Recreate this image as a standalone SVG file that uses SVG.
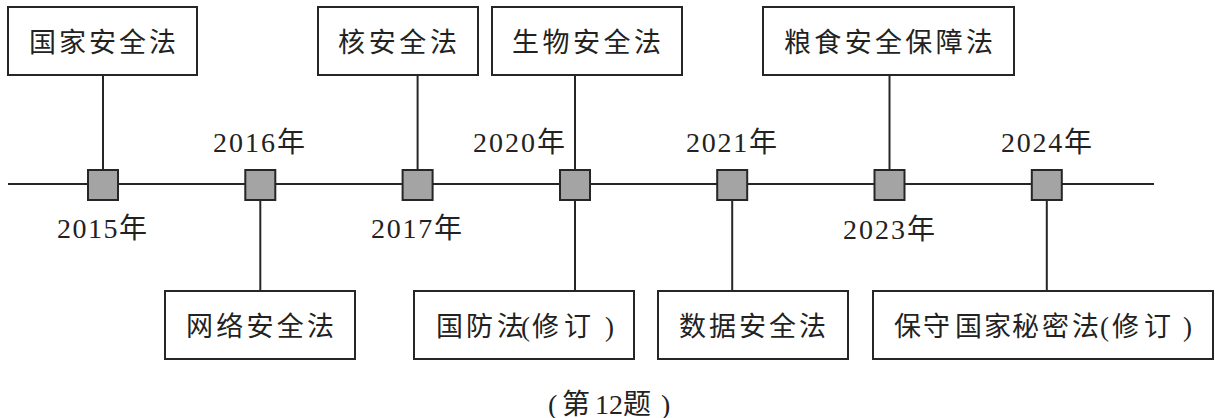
<svg xmlns="http://www.w3.org/2000/svg" width="1215" height="418" viewBox="0 0 1215 418">
<style>
.box{fill:#fff;stroke:#262626;stroke-width:2}
.sq{fill:#a4a4a4;stroke:#262626;stroke-width:2}
.ln{stroke:#262626;stroke-width:2;fill:none}
.lbl{font-family:"Liberation Serif","Noto Sans CJK SC",serif;font-size:27px;fill:#222}
.yr{font-family:"Liberation Serif","Noto Sans CJK SC",serif;font-size:28px;fill:#222}
</style>
<rect width="1215" height="418" fill="#fff"/>
<g id="connectors">
<line class="ln" x1="8" y1="184" x2="1154" y2="184"/>
<line class="ln" x1="103" y1="75" x2="103" y2="170"/>
<line class="ln" x1="417.6" y1="75" x2="417.6" y2="170"/>
<line class="ln" x1="575" y1="75" x2="575" y2="170"/>
<line class="ln" x1="889.5" y1="75" x2="889.5" y2="170"/>
<line class="ln" x1="260.3" y1="200" x2="260.3" y2="291"/>
<line class="ln" x1="575" y1="200" x2="575" y2="291"/>
<line class="ln" x1="732.2" y1="200" x2="732.2" y2="291"/>
<line class="ln" x1="1046.8" y1="200" x2="1046.8" y2="291"/>
</g>
<g id="m2015"><rect class="sq" x="88" y="170" width="30" height="30"/><text class="yr" x="57" y="238" textLength="90">2015年</text></g>
<g id="m2016"><rect class="sq" x="245.3" y="170" width="30" height="30"/><text class="yr" x="213" y="152" textLength="92">2016年</text></g>
<g id="m2017"><rect class="sq" x="402.6" y="170" width="30" height="30"/><text class="yr" x="371" y="238" textLength="91">2017年</text></g>
<g id="m2020"><rect class="sq" x="560" y="170" width="30" height="30"/><text class="yr" x="473" y="152" textLength="92">2020年</text></g>
<g id="m2021"><rect class="sq" x="717.2" y="170" width="30" height="30"/><text class="yr" x="686" y="152" textLength="91">2021年</text></g>
<g id="m2023"><rect class="sq" x="874.5" y="170" width="30" height="30"/><text class="yr" x="843" y="239" textLength="92">2023年</text></g>
<g id="m2024"><rect class="sq" x="1031.8" y="170" width="30" height="30"/><text class="yr" x="1001" y="152" textLength="91">2024年</text></g>
<g id="n1"><rect class="box" x="8" y="7" width="189" height="68"/><text class="lbl" x="29" y="52" textLength="147">国家安全法</text></g>
<g id="n2"><rect class="box" x="318" y="7" width="160" height="68"/><text class="lbl" x="338" y="52" textLength="119">核安全法</text></g>
<g id="n3"><rect class="box" x="492" y="7" width="190" height="68"/><text class="lbl" x="512" y="52" textLength="149">生物安全法</text></g>
<g id="n4"><rect class="box" x="763" y="7" width="251" height="68"/><text class="lbl" x="784" y="52" textLength="209">粮食安全保障法</text></g>
<g id="n5"><rect class="box" x="165" y="291" width="190" height="68"/><text class="lbl" x="186" y="336" textLength="148">网络安全法</text></g>
<g id="n6"><rect class="box" x="414" y="291" width="220" height="68"/><text class="lbl" x="436 466 497 521 532 564 605" y="336">国防法(修订)</text></g>
<g id="n7"><rect class="box" x="658" y="291" width="190" height="68"/><text class="lbl" x="679" y="336" textLength="147">数据安全法</text></g>
<g id="n8"><rect class="box" x="873" y="291" width="340" height="68"/><text class="lbl" x="894 923 955 984 1012 1042 1072 1100 1112 1144 1183" y="336">保守国家秘密法(修订)</text></g>
<g id="caption"><text class="yr" x="548 562 595 609 623 661" y="414" font-size="27">(第12题)</text></g>
</svg>
